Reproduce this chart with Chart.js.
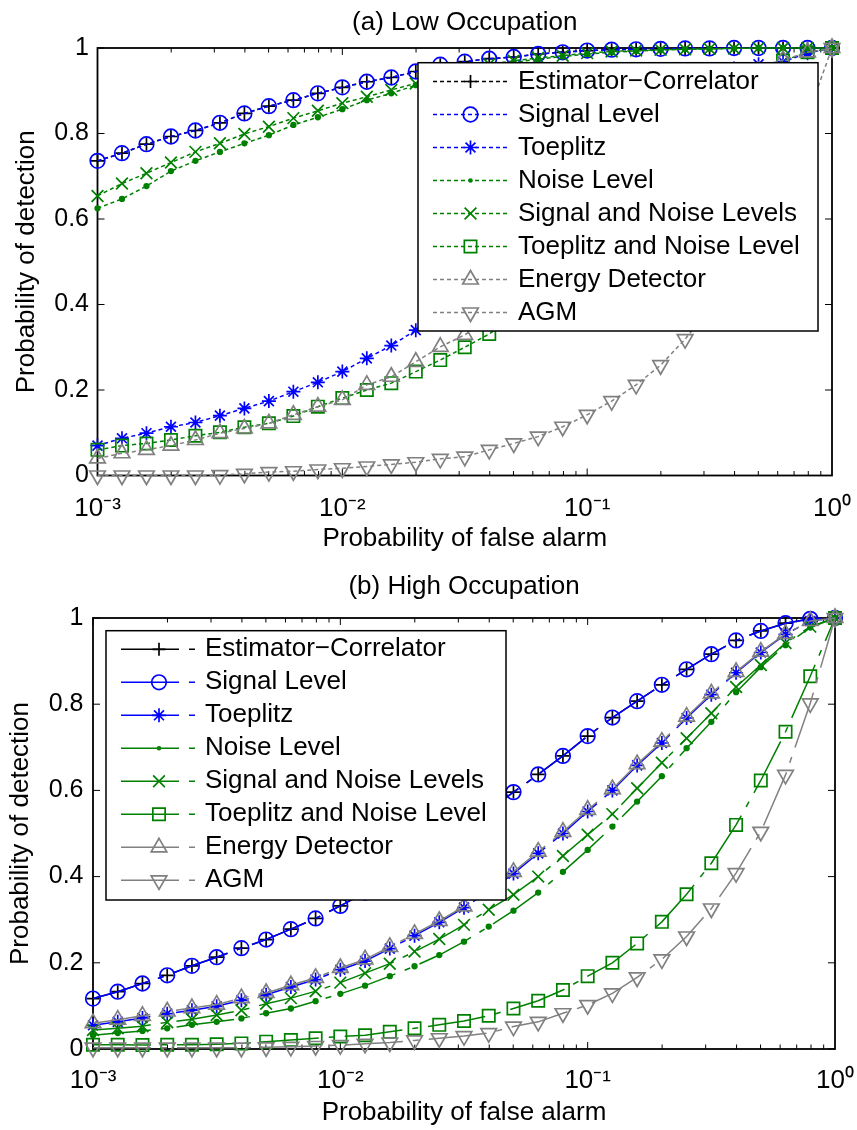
<!DOCTYPE html>
<html><head><meta charset="utf-8">
<script src="https://cdn.jsdelivr.net/npm/chart.js@4.4.1/dist/chart.umd.min.js"></script>
<style>
html,body{margin:0;padding:0;background:#fff;}
#wrap{position:relative;width:857px;height:1130px;background:#fff;}
canvas{position:absolute;left:0;}
</style></head><body>
<div id="wrap">
<canvas id="ca" width="857" height="565" style="top:0;width:857px;height:565px"></canvas>
<canvas id="cb" width="857" height="565" style="top:565px;width:857px;height:565px"></canvas>
</div>
<script>
// ---------- data ----------
const pfa = [0.001, 0.0012589, 0.0015849, 0.0019953, 0.0025119, 0.0031623, 0.0039811, 0.0050119, 0.0063096, 0.0079433,
  0.01, 0.012589, 0.015849, 0.019953, 0.025119, 0.031623, 0.039811, 0.050119, 0.063096, 0.079433,
  0.1, 0.12589, 0.15849, 0.19953, 0.25119, 0.31623, 0.39811, 0.50119, 0.63096, 0.79433, 1];

const seriesNames = ['Estimator\u2212Correlator', 'Signal Level', 'Toeplitz', 'Noise Level',
  'Signal and Noise Levels', 'Toeplitz and Noise Level', 'Energy Detector', 'AGM'];

const titleLow = '(a) Low Occupation';
const titleHigh = '(b) High Occupation';
const xAxisTitle = 'Probability of false alarm';
const yAxisTitle = 'Probability of detection';

const xTickValues = [0.001, 0.01, 0.1, 1];
const xTickLabels = ['10\u207B\u00B3', '10\u207B\u00B2', '10\u207B\u00B9', '10\u2070'];
const yTickValues = [0, 0.2, 0.4, 0.6, 0.8, 1];
const yTickLabels = ['0', '0.2', '0.4', '0.6', '0.8', '1'];

// (a) Low occupation
const lowEstCorr   = [0.736, 0.754, 0.775, 0.793, 0.807, 0.825, 0.847, 0.864, 0.878, 0.894, 0.908, 0.921, 0.931, 0.945, 0.961, 0.968, 0.975, 0.979, 0.986, 0.990, 0.994, 0.996, 0.997, 0.998, 0.999, 0.999, 1.0, 1.0, 1.0, 1.0, 1.0];
const lowSignal    = [0.736, 0.754, 0.775, 0.793, 0.807, 0.825, 0.847, 0.864, 0.878, 0.894, 0.908, 0.921, 0.931, 0.945, 0.961, 0.968, 0.975, 0.979, 0.986, 0.990, 0.994, 0.996, 0.997, 0.998, 0.999, 0.999, 1.0, 1.0, 1.0, 1.0, 1.0];
const lowToeplitz  = [0.070, 0.087, 0.099, 0.114, 0.124, 0.140, 0.157, 0.174, 0.196, 0.218, 0.243, 0.274, 0.304, 0.340, 0.380, 0.430, 0.480, 0.540, 0.600, 0.660, 0.720, 0.780, 0.830, 0.875, 0.910, 0.935, 0.952, 0.962, 0.968, 0.988, 1.0];
const lowNoise     = [0.625, 0.647, 0.677, 0.712, 0.736, 0.757, 0.777, 0.796, 0.820, 0.838, 0.857, 0.878, 0.894, 0.913, 0.930, 0.945, 0.957, 0.966, 0.974, 0.980, 0.986, 0.990, 0.993, 0.995, 0.997, 0.998, 0.999, 1.0, 1.0, 1.0, 1.0];
const lowSigNoise  = [0.654, 0.683, 0.707, 0.732, 0.757, 0.777, 0.799, 0.816, 0.836, 0.853, 0.871, 0.886, 0.902, 0.917, 0.935, 0.950, 0.962, 0.970, 0.977, 0.982, 0.988, 0.992, 0.994, 0.996, 0.997, 0.998, 0.999, 1.0, 1.0, 1.0, 1.0];
const lowToepNoise = [0.060, 0.070, 0.075, 0.083, 0.093, 0.101, 0.113, 0.122, 0.139, 0.161, 0.181, 0.200, 0.216, 0.243, 0.270, 0.300, 0.331, 0.370, 0.410, 0.460, 0.520, 0.580, 0.650, 0.720, 0.790, 0.850, 0.900, 0.940, 0.970, 0.990, 1.0];
const lowEnergy    = [0.040, 0.052, 0.060, 0.070, 0.083, 0.099, 0.110, 0.122, 0.142, 0.161, 0.177, 0.212, 0.231, 0.266, 0.301, 0.329, 0.365, 0.405, 0.450, 0.500, 0.560, 0.620, 0.680, 0.740, 0.800, 0.860, 0.910, 0.945, 0.972, 0.990, 1.0];
const lowAGM       = [0.000, 0.000, 0.000, 0.000, 0.000, 0.001, 0.004, 0.008, 0.010, 0.014, 0.017, 0.021, 0.026, 0.031, 0.039, 0.044, 0.060, 0.075, 0.091, 0.114, 0.142, 0.174, 0.212, 0.258, 0.319, 0.390, 0.470, 0.570, 0.690, 0.840, 1.0];

// (b) High occupation
const highEstCorr   = [0.117, 0.133, 0.152, 0.171, 0.193, 0.213, 0.234, 0.254, 0.278, 0.303, 0.332, 0.363, 0.397, 0.433, 0.471, 0.511, 0.553, 0.596, 0.637, 0.680, 0.726, 0.769, 0.807, 0.845, 0.881, 0.916, 0.948, 0.970, 0.988, 0.998, 1.0];
const highSignal    = [0.117, 0.133, 0.152, 0.171, 0.193, 0.213, 0.234, 0.254, 0.278, 0.303, 0.332, 0.363, 0.397, 0.433, 0.471, 0.511, 0.553, 0.596, 0.637, 0.680, 0.726, 0.769, 0.807, 0.845, 0.881, 0.916, 0.948, 0.970, 0.988, 0.998, 1.0];
const highToeplitz  = [0.055, 0.063, 0.072, 0.082, 0.090, 0.099, 0.113, 0.126, 0.144, 0.161, 0.184, 0.204, 0.233, 0.263, 0.294, 0.328, 0.366, 0.407, 0.454, 0.500, 0.551, 0.600, 0.658, 0.710, 0.768, 0.822, 0.873, 0.920, 0.962, 0.993, 1.0];
const highNoise     = [0.032, 0.037, 0.042, 0.048, 0.056, 0.063, 0.071, 0.083, 0.094, 0.111, 0.128, 0.147, 0.169, 0.192, 0.218, 0.249, 0.284, 0.321, 0.363, 0.411, 0.462, 0.516, 0.574, 0.633, 0.698, 0.759, 0.828, 0.886, 0.937, 0.978, 1.0];
const highSigNoise  = [0.044, 0.048, 0.053, 0.062, 0.069, 0.079, 0.090, 0.105, 0.118, 0.134, 0.154, 0.176, 0.198, 0.226, 0.255, 0.288, 0.323, 0.358, 0.400, 0.448, 0.497, 0.545, 0.605, 0.664, 0.721, 0.779, 0.840, 0.891, 0.942, 0.980, 1.0];
const highToepNoise = [0.010, 0.010, 0.009, 0.010, 0.010, 0.011, 0.013, 0.017, 0.021, 0.025, 0.029, 0.032, 0.040, 0.048, 0.056, 0.065, 0.077, 0.094, 0.112, 0.137, 0.169, 0.200, 0.245, 0.295, 0.359, 0.431, 0.520, 0.623, 0.736, 0.865, 1.0];
const highEnergy    = [0.060, 0.068, 0.077, 0.087, 0.095, 0.103, 0.118, 0.130, 0.148, 0.165, 0.188, 0.208, 0.237, 0.267, 0.297, 0.331, 0.370, 0.411, 0.458, 0.504, 0.555, 0.603, 0.661, 0.713, 0.771, 0.825, 0.875, 0.922, 0.963, 0.993, 1.0];
const highAGM       = [0.003, 0.003, 0.003, 0.003, 0.003, 0.003, 0.003, 0.004, 0.005, 0.007, 0.009, 0.012, 0.015, 0.020, 0.025, 0.030, 0.037, 0.052, 0.063, 0.083, 0.102, 0.129, 0.166, 0.208, 0.261, 0.326, 0.408, 0.504, 0.636, 0.802, 1.0];

const lowSeries  = [lowEstCorr, lowSignal, lowToeplitz, lowNoise, lowSigNoise, lowToepNoise, lowEnergy, lowAGM];
const highSeries = [highEstCorr, highSignal, highToeplitz, highNoise, highSigNoise, highToepNoise, highEnergy, highAGM];

// ---------- styles ----------
const FONT = '"Liberation Sans", Arial, Helvetica, sans-serif';
const BLUE = '#0000ff', GREEN = '#008000', GRAY = '#808080', BLACK = '#000000';
const markerStyles = [
  {color: BLACK, point: 'cross',    r: 6.5, rot: 0},
  {color: BLUE,  point: 'circle',   r: 7.3, rot: 0},
  {color: BLUE,  point: 'star',     r: 7,   rot: 0},
  {color: GREEN, point: 'circle',   r: 2.3, rot: 0, filled: true},
  {color: GREEN, point: 'crossRot', r: 8.3, rot: 0},
  {color: GREEN, point: 'rect',     r: 8.7, rot: 0},
  {color: GRAY,  point: 'triangle', r: 9,   rot: 0},
  {color: GRAY,  point: 'triangle', r: 9,   rot: 180}
];

function drawMarker(ctx, st, x, y) {
  const r = st.r;
  ctx.save();
  ctx.setLineDash([]);
  ctx.strokeStyle = st.color; ctx.fillStyle = st.color; ctx.lineWidth = 1.7;
  ctx.beginPath();
  if (st.point === 'cross') {
    ctx.moveTo(x - r, y); ctx.lineTo(x + r, y); ctx.moveTo(x, y - r); ctx.lineTo(x, y + r); ctx.stroke();
  } else if (st.point === 'circle') {
    ctx.arc(x, y, r, 0, Math.PI * 2);
    if (st.filled) ctx.fill(); else ctx.stroke();
  } else if (st.point === 'star') {
    const d = r * Math.SQRT1_2;
    ctx.moveTo(x - r, y); ctx.lineTo(x + r, y); ctx.moveTo(x, y - r); ctx.lineTo(x, y + r);
    ctx.moveTo(x - d, y - d); ctx.lineTo(x + d, y + d); ctx.moveTo(x - d, y + d); ctx.lineTo(x + d, y - d);
    ctx.stroke();
  } else if (st.point === 'crossRot') {
    const d = r * Math.SQRT1_2;
    ctx.moveTo(x - d, y - d); ctx.lineTo(x + d, y + d); ctx.moveTo(x - d, y + d); ctx.lineTo(x + d, y - d);
    ctx.stroke();
  } else if (st.point === 'rect') {
    const s = r * Math.SQRT1_2;
    ctx.rect(x - s, y - s, 2 * s, 2 * s); ctx.stroke();
  } else if (st.point === 'triangle') {
    let a = st.rot * Math.PI / 180;
    for (let i = 0; i < 3; i++) {
      const px = x + Math.sin(a) * r, py = y - Math.cos(a) * r;
      if (i === 0) ctx.moveTo(px, py); else ctx.lineTo(px, py);
      a += 2 * Math.PI / 3;
    }
    ctx.closePath(); ctx.stroke();
  }
  ctx.restore();
}

const minorMult = [1, 2, 3, 4, 5, 6, 7, 8, 9];
const decades = [0.001, 0.01, 0.1];

const framePlugin = {
  id: 'frame',
  beforeDatasetsDraw(chart) {
    const {ctx, chartArea: a} = chart;
    const xs = chart.scales.x, ys = chart.scales.y;
    ctx.save();
    ctx.strokeStyle = '#000';
    ctx.lineWidth = 1;
    ctx.beginPath();
    decades.forEach(d => minorMult.forEach(m => {
      const px = xs.getPixelForValue(d * m);
      const len = m === 1 ? 7 : 4.5;
      ctx.moveTo(px, a.bottom); ctx.lineTo(px, a.bottom - len);
      ctx.moveTo(px, a.top); ctx.lineTo(px, a.top + len);
    }));
    yTickValues.forEach(v => {
      const py = ys.getPixelForValue(v);
      ctx.moveTo(a.left, py); ctx.lineTo(a.left + 7, py);
      ctx.moveTo(a.right, py); ctx.lineTo(a.right - 7, py);
    });
    ctx.stroke();
    ctx.lineWidth = 1.8;
    ctx.strokeRect(a.left, a.top, a.right - a.left, a.bottom - a.top);
    ctx.restore();
  },
  afterDatasetsDraw(chart, args, opts) {
    const {ctx} = chart;
    const L = opts;
    ctx.save();
    ctx.fillStyle = '#fff';
    ctx.fillRect(L.x, L.y, L.w, L.h);
    ctx.strokeStyle = '#000'; ctx.lineWidth = 1.5;
    ctx.strokeRect(L.x, L.y, L.w, L.h);
    ctx.font = '26px ' + FONT;
    ctx.textBaseline = 'middle';
    ctx.textAlign = 'left';
    chart.data.datasets.forEach((ds, i) => {
      const y = L.row0 + i * L.rowH;
      const st = markerStyles[i];
      ctx.save();
      ctx.strokeStyle = st.color; ctx.lineWidth = 1.5;
      ctx.setLineDash(L.dash);
      ctx.beginPath(); ctx.moveTo(L.s0, y); ctx.lineTo(L.s1, y); ctx.stroke();
      ctx.restore();
      drawMarker(ctx, st, L.mx, y);
      ctx.fillStyle = '#000';
      ctx.fillText(ds.label, L.tx, y);
    });
    ctx.restore();
  }
};

function makeChart(id, cfg) {
  const datasets = cfg.series.map((vals, i) => {
    const st = markerStyles[i];
    return {
      label: seriesNames[i],
      data: pfa.map((x, k) => ({x: x, y: vals[k]})),
      borderColor: st.color,
      backgroundColor: st.color,
      borderWidth: 1.5,
      borderDash: cfg.dash,
      pointStyle: st.point,
      pointRadius: st.r,
      pointRotation: st.rot,
      pointBorderColor: st.color,
      pointBackgroundColor: st.filled ? st.color : 'rgba(0,0,0,0)',
      pointBorderWidth: 1.7,
      pointHoverRadius: st.r,
      tension: 0,
      fill: false,
      clip: false,
      order: 7 - i
    };
  });
  return new Chart(document.getElementById(id), {
    type: 'line',
    data: {datasets},
    plugins: [framePlugin],
    options: {
      responsive: false,
      animation: false,
      devicePixelRatio: 1,
      events: [],
      layout: {padding: {left: 0, right: cfg.padRight, top: 0, bottom: 0}},
      plugins: {
        legend: {display: false},
        tooltip: {enabled: false},
        title: {
          display: true, text: cfg.title, color: '#000', fullSize: false,
          font: {family: FONT, size: 26, weight: 'normal', lineHeight: 1.2},
          padding: {top: cfg.titleTop, bottom: cfg.titleBottom}
        },
        frame: cfg.legend
      },
      scales: {
        x: {
          type: 'logarithmic', min: 0.001, max: 1,
          grid: {display: false, drawTicks: false},
          border: {display: false},
          afterBuildTicks: s => { s.ticks = xTickValues.map(v => ({value: v})); },
          afterFit: s => { s.height = cfg.xHeight; s.paddingLeft = 0; s.paddingRight = 0; },
          ticks: {
            autoSkip: false, maxRotation: 0, minRotation: 0, color: '#000',
            padding: cfg.xTickPad,
            font: {family: FONT, size: 26, lineHeight: 1.2},
            callback: (v) => { const i = xTickValues.findIndex(t => Math.abs(t - v) < 1e-9); return i >= 0 ? xTickLabels[i] : ''; }
          },
          title: {
            display: true, text: xAxisTitle, color: '#000',
            font: {family: FONT, size: 26, lineHeight: 1.2},
            padding: {top: 0, bottom: cfg.xTitlePad}
          }
        },
        y: {
          type: 'linear', min: 0, max: 1,
          grid: {display: false, drawTicks: false},
          border: {display: false},
          afterBuildTicks: s => { s.ticks = yTickValues.map(v => ({value: v})); },
          afterFit: s => { s.width = cfg.yWidth; s.paddingTop = 0; s.paddingBottom = 0; },
          ticks: {
            color: '#000', padding: cfg.yTickPad,
            font: {family: FONT, size: 25, lineHeight: 1.2},
            callback: (v) => { const i = yTickValues.findIndex(t => Math.abs(t - v) < 1e-9); return i >= 0 ? yTickLabels[i] : ''; }
          },
          title: {
            display: true, text: yAxisTitle, color: '#000',
            font: {family: FONT, size: 26, lineHeight: 1.2},
            padding: {top: cfg.yTitlePad, bottom: 0}
          }
        }
      }
    }
  });
}

makeChart('ca', {
  title: titleLow, series: lowSeries, dash: [4, 3],
  padRight: 25, yWidth: 97.5, xHeight: 89.5,
  titleTop: 7.4, titleBottom: 9.4,
  xTickPad: 17.5, yTickPad: 8.5, xTitlePad: 10.4, yTitlePad: 11.4,
  legend: {x: 418, y: 62.7, w: 400, h: 268.3, row0: 81.5, rowH: 33, s0: 433, s1: 508, mx: 470.5, tx: 518, dash: [4, 3]}
});

makeChart('cb', {
  title: titleHigh, series: highSeries, dash: [58, 10, 6, 10],
  padRight: 22, yWidth: 93, xHeight: 81,
  titleTop: 6.4, titleBottom: 15.4,
  xTickPad: 16, yTickPad: 9.5, xTitlePad: 1.9, yTitlePad: 5.4,
  legend: {x: 106, y: 65.7, w: 400, h: 269.3, row0: 84.3, rowH: 33, s0: 121, s1: 197, mx: 159, tx: 205, dash: [58, 10, 6, 10]}
});
</script>
</body></html>
